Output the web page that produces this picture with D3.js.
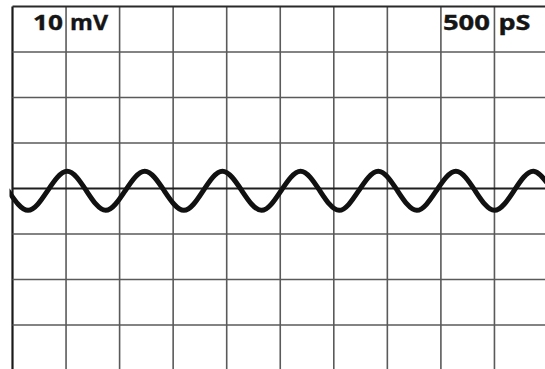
<!DOCTYPE html>
<html>
<head>
<meta charset="utf-8">
<script src="https://cdn.jsdelivr.net/npm/d3@7"></script>
<style>
  body { margin: 0; background: #fff; }
  svg { display: block; }
</style>
</head>
<body>
<script>
'use strict';

(function() {

    var width = 545,
        height = 369;

    // scope settings
    var voltsPerDiv = ["10", "mV"];
    var timePerDiv = ["500", "pS"];
    var xDivs = 10,
        yDivs = 8;

    // waveform samples: time (ps) and level (mV), read at crests, troughs and crossings
    var waveTime = [-40, 145, 327, 510, 690, 870, 1052, 1235, 1417, 1600, 1780,
                    1960, 2142, 2325, 2507, 2690, 2870, 3050, 3232, 3415, 3595,
                    3775, 3957, 4140, 4320, 4500, 4682, 4865, 5047, 5230];
    var waveLevel = [-0.5, -4.8, -0.5, 3.8, -0.5, -4.8, -0.5, 3.8, -0.5, -4.8, -0.5,
                     3.8, -0.5, -4.8, -0.5, 3.8, -0.5, -4.8, -0.5, 3.8, -0.5,
                     -4.8, -0.5, 3.8, -0.5, -4.8, -0.5, 3.8, -0.5, -4.8];

    window.onload = function() {
        var svg = d3.select( "body" )
            .append( "svg" )
            .attr( "width", width )
            .attr( "height", height );

        var x = d3.scaleLinear()
            .domain( [0, xDivs * +timePerDiv[0]] )
            .range( [12.5, 548] );

        var y = d3.scaleLinear()
            .domain( [-yDivs / 2 * +voltsPerDiv[0], yDivs / 2 * +voltsPerDiv[0]] )
            .range( [370.5, 6.5] );

        var xTicks = x.ticks( xDivs );
        var yTicks = y.ticks( yDivs );

        // grid
        var grid = svg.append( "g" ).attr( "id", "grid" );

        grid.selectAll( "line.v" )
            .data( xTicks )
            .enter()
            .append( "line" )
            .attr( "class", "v" )
            .attr( "x1", d => x( d ) )
            .attr( "x2", d => x( d ) )
            .attr( "y1", y.range()[1] )
            .attr( "y2", y.range()[0] )
            .attr( "stroke", d => d === 0 ? "#1a1a1a" : "#5a5a5a" )
            .attr( "stroke-width", d => d === 0 ? 2.2 : 1.6 );

        grid.selectAll( "line.h" )
            .data( yTicks )
            .enter()
            .append( "line" )
            .attr( "class", "h" )
            .attr( "x1", x.range()[0] )
            .attr( "x2", x.range()[1] )
            .attr( "y1", d => y( d ) )
            .attr( "y2", d => y( d ) )
            .attr( "stroke", d => d === 0 ? "#1f1f1f" : (d === yTicks[yTicks.length - 1] ? "#2a2a2a" : "#5a5a5a") )
            .attr( "stroke-width", d => d === 0 ? 2 : (d === yTicks[yTicks.length - 1] ? 2.2 : 1.6) );

        // labels
        var labels = svg.append( "g" )
            .attr( "font-family", "'Open Sans', sans-serif" )
            .attr( "font-weight", "bold" )
            .attr( "font-size", 22 )
            .attr( "fill", "#151515" )
            .attr( "stroke", "#151515" )
            .attr( "stroke-width", 0.4 );

        labels.append( "text" )
            .attr( "x", x( +timePerDiv[0] ) - 3 )
            .attr( "y", 30 )
            .attr( "text-anchor", "end" )
            .attr( "textLength", 30 )
            .attr( "lengthAdjust", "spacingAndGlyphs" )
            .text( voltsPerDiv[0] );

        labels.append( "text" )
            .attr( "x", x( +timePerDiv[0] ) + 4 )
            .attr( "y", 30 )
            .attr( "textLength", 38 )
            .attr( "lengthAdjust", "spacingAndGlyphs" )
            .text( voltsPerDiv[1] );

        labels.append( "text" )
            .attr( "x", x( 8 * +timePerDiv[0] ) + 2 )
            .attr( "y", 30 )
            .attr( "textLength", 47 )
            .attr( "lengthAdjust", "spacingAndGlyphs" )
            .text( timePerDiv[0] );

        labels.append( "text" )
            .attr( "x", x( 9 * +timePerDiv[0] ) + 4 )
            .attr( "y", 30 )
            .attr( "textLength", 32 )
            .attr( "lengthAdjust", "spacingAndGlyphs" )
            .text( timePerDiv[1] );

        // waveform
        svg.append( "clipPath" )
            .attr( "id", "screen" )
            .append( "rect" )
            .attr( "x", x.range()[0] - 3 )
            .attr( "y", 0 )
            .attr( "width", width )
            .attr( "height", height );

        var line = d3.line()
            .x( (d, i) => x( waveTime[i] ) )
            .y( (d, i) => y( waveLevel[i] ) )
            .curve( d3.curveNatural );

        svg.append( "path" )
            .attr( "clip-path", "url(#screen)" )
            .attr( "d", line( waveTime ) )
            .attr( "fill", "none" )
            .attr( "stroke", "#111" )
            .attr( "stroke-width", 5 )
            .attr( "stroke-linecap", "round" );
    }
})();
</script>
</body>
</html>
